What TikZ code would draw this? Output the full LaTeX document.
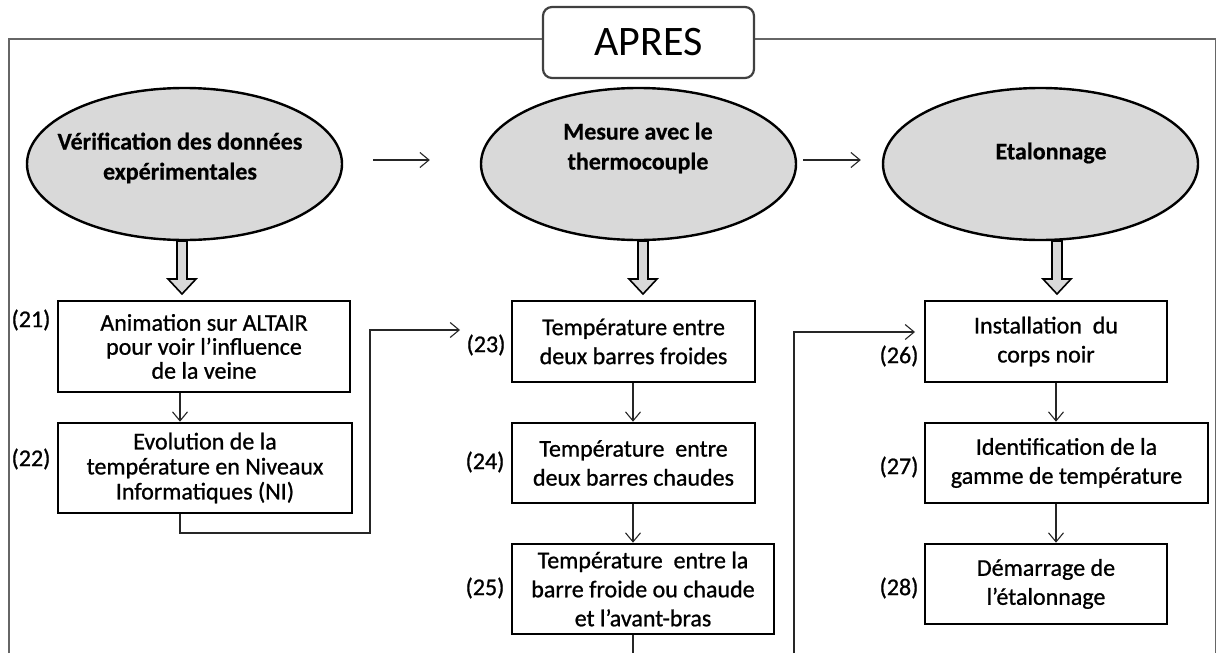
\documentclass[tikz,border=0pt]{standalone}
\usepackage{fontspec}
\setmainfont{Carlito}
\newfontfamily\boxfont[FakeBold=0.9]{Carlito}
\newfontfamily\stagefont[FakeBold=0.6]{Carlito Bold}
\usetikzlibrary{arrows.meta,shapes.geometric,calc}
\definecolor{stagegray}{HTML}{D9D9D9}
\newcommand\blockarr[1]{\filldraw[blockarrow] (#1-5,241) -- (#1+5,241) -- (#1+5,279) -- (#1+14,279) -- (#1,294) -- (#1-14,279) -- (#1-5,279) -- cycle;}
\begin{document}
\begin{tikzpicture}[x=1pt,y=-1pt,
  frameline/.style={draw=black!60, line width=1.8pt},
  titlebox/.style={draw=black!75, line width=2.2pt, rounded corners=9pt, fill=white, minimum width=211pt, minimum height=71pt, inner sep=0pt, font=\fontsize{42}{42}\selectfont},
  stage/.style={ellipse, draw=black, line width=2.4pt, fill=stagegray, minimum width=315pt, minimum height=152pt, inner sep=0pt},
  stagetext/.style={font=\stagefont\fontsize{24}{30}\selectfont, align=center, inner sep=0pt},
  stepbox/.style={draw=black, line width=2.6pt, fill=white, align=center, inner sep=0pt, font=\boxfont\fontsize{24}{29}\selectfont},
  num/.style={font=\boxfont\fontsize{24}{24}\selectfont, inner sep=0pt},
  thinline/.style={draw=black!85, line width=1.1pt},
  thinarrow/.style={thinline, -{Straight Barb[length=9pt,width=15pt,line width=1.1pt]}},
  blockarrow/.style={draw=black, line width=1.6pt, fill=stagegray}]
\useasboundingbox (0,0) rectangle (1217,653);

% frame and title
\draw[frameline] (9,653) -- (9,39) -- (1215.5,39) -- (1215.5,653);
\node[titlebox] (apres) at (648.5,42.5) {APRES};

% stages
\node[stage] (e1) at (184.5,164) {};
\node[stage] (e2) at (638.5,164) {};
\node[stage] (e3) at (1040.5,164) {};
\node[stagetext] (t1) at (180,158) {Vérification des données\\expérimentales};
\node[stagetext] (t2) at (638,148) {Mesure avec le\\thermocouple};
\node[stagetext] (t3) at (1051,153) {Etalonnage};

\draw[thinarrow] ([xshift=30pt,yshift=4pt]e1.east) -- ([xshift=-50pt,yshift=4pt]e2.west);
\draw[thinarrow] ([xshift=6pt,yshift=4pt]e2.east) -- ([xshift=-21pt,yshift=4pt]e3.west);

\blockarr{182}
\blockarr{643}
\blockarr{1057}

% steps
\node[stepbox, minimum width=292pt, minimum height=91pt, font=\boxfont\fontsize{24}{24}\selectfont] (b21) at (204,346.5) {Animation sur ALTAIR\\pour voir l’influence\\de la veine};
\node[stepbox, minimum width=294pt, minimum height=90pt, font=\boxfont\fontsize{24}{25}\selectfont] (b22) at (205,468) {Evolution de la\\température en Niveaux\\Informatiques (NI)};
\node[stepbox, minimum width=243pt, minimum height=81pt] (b23) at (633.5,341.5) {Température entre\\deux barres froides};
\node[stepbox, minimum width=243pt, minimum height=80pt] (b24) at (633.5,463) {Température\ \ entre\\deux barres chaudes};
\node[stepbox, minimum width=262pt, minimum height=90pt] (b25) at (643,589) {Température\ \ entre la\\barre froide ou chaude\\et l’avant-bras};
\node[stepbox, minimum width=242pt, minimum height=81pt] (b26) at (1046,341.5) {Installation\ \ du\\corps noir};
\node[stepbox, minimum width=283pt, minimum height=80pt] (b27) at (1066.5,463) {Identification de la\\gamme de température};
\node[stepbox, minimum width=242pt, minimum height=80pt] (b28) at (1046,584) {Démarrage de\\l’étalonnage};

% numbers
\node[num] (n21) at (31,320) {(21)};
\node[num] (n22) at (31,459) {(22)};
\node[num] (n23) at (486,345) {(23)};
\node[num] (n24) at (485,462) {(24)};
\node[num] (n25) at (485,588) {(25)};
\node[num] (n26) at (899,356) {(26)};
\node[num] (n27) at (899,467) {(27)};
\node[num] (n28) at (899,588) {(28)};

% connectors
\coordinate (c1) at (180,0);
\coordinate (c2) at (633,0);
\coordinate (c3) at (1056,0);
\draw[thinarrow] (b21.south -| c1) -- (b22.north -| c1);
\draw[thinarrow] (b23.south -| c2) -- (b24.north -| c2);
\draw[thinarrow] (b24.south -| c2) -- (b25.north -| c2);
\draw[thinarrow] (b26.south -| c3) -- (b27.north -| c3);
\draw[thinarrow] (b27.south -| c3) -- (b28.north -| c3);

\coordinate (in23) at (460,330);
\draw[thinarrow] (b22.south -| c1) |- (370,533) |- (in23);
\coordinate (out25) at (633,653);
\draw[thinline] (b25.south -| c2) -- (out25);
\coordinate (ret26) at (794,653);
\coordinate (in26) at (915,332);
\draw[thinarrow] (ret26) |- (in26);
\end{tikzpicture}
\end{document}
